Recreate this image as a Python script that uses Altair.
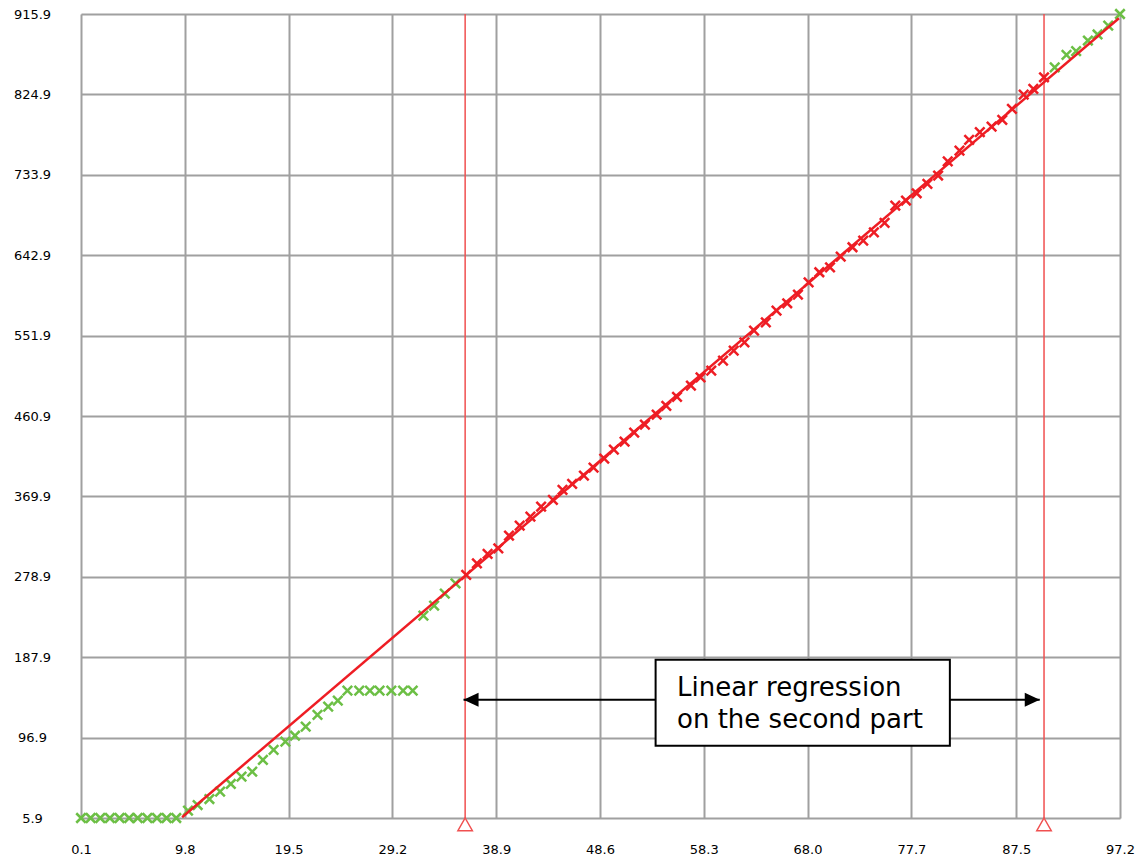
import altair as alt
import pandas as pd

# ---- data ----
x_ticks = [0.1, 9.8, 19.5, 29.2, 38.9, 48.6, 58.3, 68.0, 77.7, 87.5, 97.2]
y_ticks = [5.9, 96.9, 187.9, 278.9, 369.9, 460.9, 551.9, 642.9, 733.9, 824.9, 915.9]

green_x = [0.1, 1.0, 1.9, 2.8, 3.7, 4.6, 5.4, 6.3, 7.2, 8.1, 9.0,
           10.1, 11.0, 12.1, 13.1, 14.1, 15.1, 16.1, 17.1, 18.1, 19.2,
           20.1, 21.1, 22.2, 23.2, 24.1, 25.0,
           26.1, 27.1, 28.0, 29.1, 30.2, 31.1,
           32.1, 33.1, 34.1, 35.1,
           91.1, 92.2, 93.1, 94.2, 95.1, 96.1, 97.2]
green_y = [5.9, 5.9, 5.9, 5.9, 5.9, 5.9, 5.9, 5.9, 5.9, 5.9, 5.9,
           14.2, 20.6, 27.4, 35.7, 44.4, 52.7, 58.3, 71.6, 82.9, 92.3,
           99.0, 109.3, 122.5, 131.9, 138.7, 150.0,
           150.0, 150.0, 150.0, 150.0, 150.0, 150.0,
           234.9, 246.2, 259.8, 271.5,
           855.6, 869.7, 873.8, 885.9, 892.7, 902.8, 915.9]

red_x = [36.1, 37.1, 38.1, 39.1, 40.1, 41.1, 42.1, 43.1, 44.2, 45.1,
         46.0, 47.1, 48.0, 49.0, 49.9, 50.9, 51.8, 52.8, 53.9, 54.8,
         55.8, 57.1, 58.0, 59.0, 60.1, 61.1, 62.1, 63.0, 64.1, 65.1,
         66.1, 67.1, 68.1, 69.1, 70.1, 71.1, 72.2, 73.2, 74.2, 75.2,
         76.2, 77.2, 78.2, 79.2, 80.2, 81.1, 82.2, 83.1, 84.1, 85.2,
         86.2, 87.1, 88.2, 89.1, 90.1]
red_y = [281.0, 294.1, 304.8, 311.1, 325.5, 336.8, 347.0, 358.3, 365.9, 377.2,
         384.0, 393.4, 402.5, 412.7, 422.8, 432.0, 442.1, 451.2, 462.5, 472.4,
         482.6, 495.3, 504.7, 512.3, 523.6, 534.9, 544.3, 557.6, 566.9, 580.2,
         588.5, 598.3, 612.2, 623.6, 629.2, 641.3, 651.9, 659.4, 668.8, 679.4,
         699.1, 704.8, 713.0, 723.6, 733.1, 749.2, 761.3, 773.5, 782.1, 788.5,
         796.1, 808.6, 824.7, 831.2, 844.3]

reg_x = [9.55, 97.1]
reg_y = [6.8, 911.1]

cut_x = [36.0, 90.1]
arrow_x = [35.85, 89.7]
arrow_y = [139.8, 139.8]
box_x = [53.8, 81.3]
box_y = [87.8, 185.1]
label_lines = ["Linear regression", "on the second part"]
label_x = [55.8, 55.8]
label_y = [144.4, 108.1]

GREEN = "#6cbf45"
RED = "#ee1d24"
CUTRED = "#f05050"
GRID = "#a0a0a0"

xs = alt.Scale(domain=[0.1, 97.2], nice=False, zero=False)
ys = alt.Scale(domain=[5.9, 915.9], nice=False, zero=False)

CROSS = "M-1,-1L1,1M-1,1L1,-1"

green_df = pd.DataFrame({"x": green_x, "y": green_y})
red_df = pd.DataFrame({"x": red_x, "y": red_y})
reg_df = pd.DataFrame({"x": reg_x, "y": reg_y})
cut_df = pd.DataFrame({"x": cut_x, "y": [5.9, 5.9], "ytop": [915.9, 915.9]})
arrow_df = pd.DataFrame({"x": [arrow_x[0]], "x2": [arrow_x[1]], "y": [arrow_y[0]]})
head_df = pd.DataFrame({"x": arrow_x, "y": arrow_y, "side": ["left", "right"]})
box_df = pd.DataFrame({"x": [box_x[0]], "x2": [box_x[1]], "y": [box_y[0]], "y2": [box_y[1]]})
text_df = pd.DataFrame({"x": label_x, "y": label_y, "t": label_lines})

x_axis = alt.Axis(values=x_ticks, format=".1f", title=None, grid=True, ticks=False,
                  tickSize=0, domain=False, labelPadding=25, labelBaseline="top",
                  gridColor=GRID, gridWidth=2, labelFont="DejaVu Sans",
                  labelFontSize=13, labelColor="#000000", labelFlush=False)
y_axis = alt.Axis(values=y_ticks, format=".1f", title=None, grid=True, ticks=False,
                  tickSize=0, domain=False, labelPadding=49, labelAlign="center",
                  labelBaseline="middle", gridColor=GRID, gridWidth=2,
                  labelFont="DejaVu Sans", labelFontSize=13, labelColor="#000000",
                  labelFlush=False)

X = alt.X("x:Q", scale=xs, axis=x_axis)
Y = alt.Y("y:Q", scale=ys, axis=y_axis)

cuts = alt.Chart(cut_df).mark_rule(color=CUTRED, strokeWidth=1.5).encode(
    x=X, y=Y, y2="ytop:Q",
)

green = alt.Chart(green_df).mark_point(shape=CROSS, filled=False, size=90,
                                       strokeWidth=2.5, color=GREEN, opacity=1).encode(x=X, y=Y)

red = alt.Chart(red_df).mark_point(shape=CROSS, filled=False, size=90,
                                   strokeWidth=2.5, color=RED, opacity=1).encode(x=X, y=Y)

reg = alt.Chart(reg_df).mark_line(color=RED, strokeWidth=2.5).encode(x=X, y=Y)

arrow = alt.Chart(arrow_df).mark_rule(color="#000000", strokeWidth=2).encode(
    x=X, x2="x2:Q", y=Y,
)

head_l = alt.Chart(head_df[head_df.side == "left"]).mark_point(
    shape="M0,0L2,-0.93L2,0.93Z", filled=True, size=225, color="#000000", opacity=1
).encode(x=X, y=Y)

head_r = alt.Chart(head_df[head_df.side == "right"]).mark_point(
    shape="M0,0L-2,-0.93L-2,0.93Z", filled=True, size=225, color="#000000", opacity=1
).encode(x=X, y=Y)

box = alt.Chart(box_df).mark_rect(fill="#ffffff", stroke="#000000", strokeWidth=2).encode(
    x=X, x2="x2:Q", y=Y, y2="y2:Q",
)

text = alt.Chart(text_df).mark_text(align="left", baseline="alphabetic",
                                    font="DejaVu Sans", fontSize=26, color="#000000").encode(
    x=X, y=Y, text="t:N",
)

tri = alt.Chart(cut_df).mark_point(shape="M0,0L1,1.75L-1,1.75Z", filled=False, size=210,
                                   strokeWidth=1.5, color=CUTRED, fill="#ffffff",
                                   fillOpacity=1, opacity=1).encode(x=X, y=Y)

chart = alt.layer(cuts, green, red, reg, arrow, box, text, head_l, head_r, tri).properties(
    width=1039, height=804,
    autosize=alt.AutoSizeParams(type="none"),
    padding={"left": 73, "top": 6, "right": 16, "bottom": 38},
).configure_view(stroke=GRID, strokeWidth=2).configure(background="#ffffff")

chart.save("out.html", embed_options={"renderer": "svg", "actions": False})
